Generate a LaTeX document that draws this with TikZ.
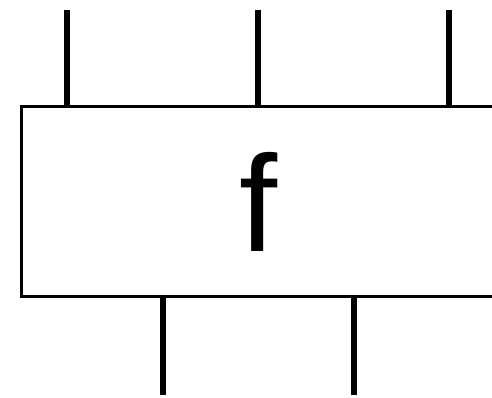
\documentclass[tikz,border=0pt]{standalone}
\usepackage{fontspec}
\setmainfont{Liberation Sans}
\begin{document}
\begin{tikzpicture}[x=1pt,y=1pt,
  boxstyle/.style={draw=black,line width=3pt,rectangle,minimum width=474.5pt,minimum height=190pt,inner sep=0pt,font=\fontsize{137}{137}\selectfont},
  leg/.style={line width=5.5pt,black}]
\useasboundingbox (0,0) rectangle (492,398);
\begin{scope}
\clip (0,0) rectangle (492,398);
\node[boxstyle] (f) at (258.75,196) {f};
\coordinate (t1) at (67,388);
\coordinate (t2) at (258,388);
\coordinate (t3) at (449,388);
\coordinate (b1) at (163,3);
\coordinate (b2) at (354,3);
\draw[leg] (t1) -- (t1 |- f.north);
\draw[leg] (t2) -- (t2 |- f.north);
\draw[leg] (t3) -- (t3 |- f.north);
\draw[leg] (b1) -- (b1 |- f.south);
\draw[leg] (b2) -- (b2 |- f.south);
\end{scope}
\end{tikzpicture}
\end{document}
